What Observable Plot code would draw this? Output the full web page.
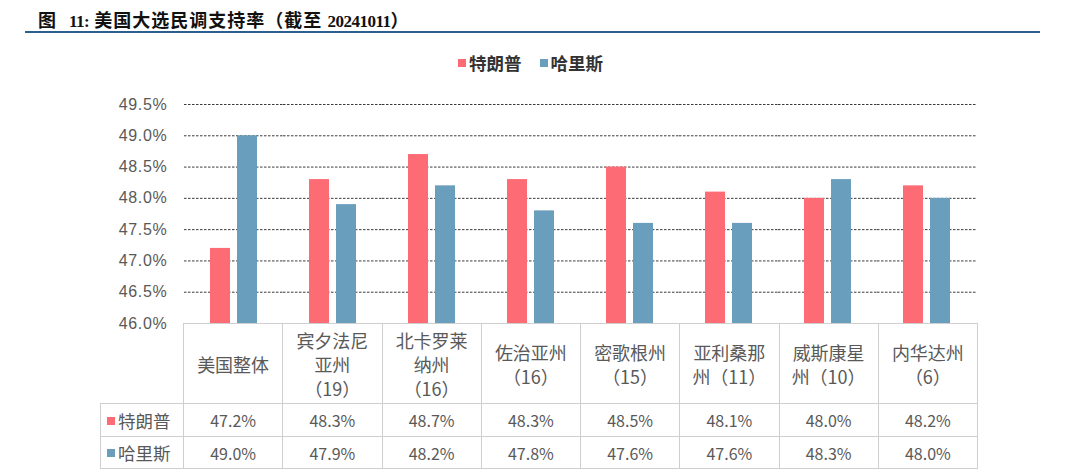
<!DOCTYPE html>
<html>
<head>
<meta charset="utf-8">
<script src="https://cdn.jsdelivr.net/npm/d3@7"></script>
<script src="https://cdn.jsdelivr.net/npm/@observablehq/plot@0.6"></script>
<style>
  body { margin:0; width:1080px; height:476px; position:relative; background:#fff; overflow:hidden; font-family:"Noto Sans CJK SC", sans-serif; }
  #title { position:absolute; left:38px; top:6px; font-size:18px; font-weight:bold; color:#111; white-space:nowrap; font-family:"Noto Sans CJK SC"; letter-spacing:1px; }
  #title .lat { font-family:"Liberation Serif"; font-size:17px; letter-spacing:-0.5px; }
  #title .gap { display:inline-block; width:12px; }
  #rule { position:absolute; left:25px; top:31px; width:1015px; height:2px; background:#2a5f8f; }
  #legend { position:absolute; left:458px; top:50px; display:flex; align-items:center; font-size:17.5px; font-weight:bold; color:#333; }
  #legend .sw { display:inline-block; width:8px; height:8px; margin-right:3px; }
  #legend .item { display:flex; align-items:center; margin-right:18px; }
  #chart { position:absolute; left:0; top:90px; }
  #tbl { position:absolute; left:100px; top:323px; border-collapse:collapse; table-layout:fixed; color:#595959; }
  #tbl td { border:1px solid #cfcfcf; text-align:center; padding:0; }
  #tbl td.empty { border-top:none; border-left:none; }
  #tbl tr.head td { height:79px; font-size:18px; line-height:24px; }
  #tbl tr.val td { font-size:16px; }
  #tbl tr.val td.rl { text-align:left; font-size:17.5px; padding-left:6px; white-space:nowrap; }
  #tbl td.rl .sw { display:inline-block; width:8px; height:8px; margin-right:3px; vertical-align:middle; position:relative; top:-2px; }
</style>
</head>
<body>
<div id="title">图<span class="gap"></span><span class="lat">11:</span> 美国大选民调支持率（截至 <span class="lat">20241011</span>）</div>
<div id="rule"></div>
<div id="legend"></div>
<div id="chart"></div>
<table id="tbl"></table>
<script>
const categories = ["美国整体","宾夕法尼亚州","北卡罗莱纳州","佐治亚州","密歌根州","亚利桑那州","威斯康星州","内华达州"];
const categoryLabels = ["美国整体","宾夕法尼\n亚州\n（19）","北卡罗莱\n纳州\n（16）","佐治亚州\n（16）","密歌根州\n（15）","亚利桑那\n州（11）","威斯康星\n州（10）","内华达州\n（6）"];
const series = ["特朗普","哈里斯"];
const trump = [47.2, 48.3, 48.7, 48.3, 48.5, 48.1, 48.0, 48.2];
const harris = [49.0, 47.9, 48.2, 47.8, 47.6, 47.6, 48.3, 48.0];
const yTicks = [46.0, 46.5, 47.0, 47.5, 48.0, 48.5, 49.0, 49.5];
const colors = ["#fd6b75", "#6a9ebd"];

const data = [];
categories.forEach((c, i) => {
  data.push({cat: c, series: series[0], value: trump[i]});
  data.push({cat: c, series: series[1], value: harris[i]});
});

const chart = Plot.plot({
  width: 1080, height: 243,
  marginTop: 14, marginBottom: 10, marginLeft: 183, marginRight: 103,
  style: {fontFamily: "Liberation Sans", fontSize: "16px", color: "#595959", overflow: "visible", letterSpacing: "0.7px"},
  fx: {domain: categories, padding: 0, axis: null},
  x: {domain: series, paddingInner: 0.25, paddingOuter: 0.9, axis: null},
  y: {domain: [46, 49.5], ticks: yTicks, tickFormat: d => d.toFixed(1) + "%", tickSize: 0, tickPadding: 17, label: null},
  color: {domain: series, range: colors},
  marks: [
    Plot.gridY(yTicks.filter(t => t > 46), {stroke: "#3a3a3a", strokeOpacity: 1, strokeDasharray: "2.5,1.5"}),
    Plot.barY(data, {fx: "cat", x: "series", y1: 46, y2: "value", fill: "series"})
  ]
});
document.getElementById("chart").appendChild(chart);

// legend
const lg = document.getElementById("legend");
series.forEach((s, i) => {
  const it = document.createElement("div");
  it.className = "item";
  it.innerHTML = `<span class="sw" style="background:${colors[i]}"></span><span>${s}</span>`;
  lg.appendChild(it);
});

// table
const tbl = document.getElementById("tbl");
const cg = document.createElement("colgroup");
cg.innerHTML = `<col style="width:83px">` + categories.map(() => `<col style="width:99.25px">`).join("");
tbl.appendChild(cg);
const head = document.createElement("tr");
head.className = "head";
head.innerHTML = `<td class="empty"></td>` + categoryLabels.map(l => `<td>${l.split("\n").join("<br>")}</td>`).join("");
tbl.appendChild(head);
[trump, harris].forEach((vals, si) => {
  const tr = document.createElement("tr");
  tr.className = "val";
  tr.style.height = si === 0 ? "33px" : "32px";
  tr.innerHTML = `<td class="rl"><span class="sw" style="background:${colors[si]}"></span>${series[si]}</td>` +
    vals.map(v => `<td>${v.toFixed(1)}%</td>`).join("");
  tbl.appendChild(tr);
});
</script>
</body>
</html>
